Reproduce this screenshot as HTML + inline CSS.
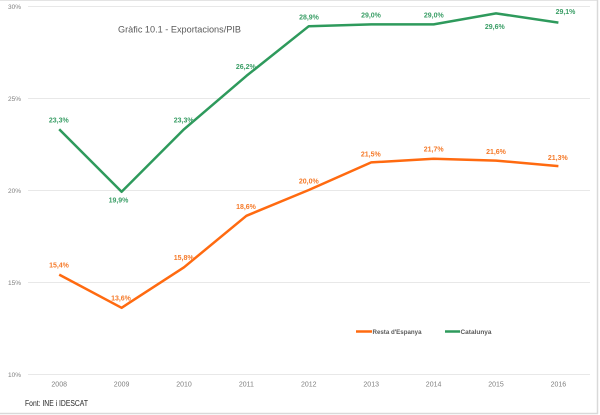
<!DOCTYPE html>
<html><head><meta charset="utf-8"><style>
html,body{margin:0;padding:0;background:#fff;}
svg{display:block;}
text{font-family:"Liberation Sans",Arial,sans-serif;}
</style></head><body>
<svg width="600" height="415" viewBox="0 0 600 415" xmlns="http://www.w3.org/2000/svg">
<rect x="0" y="0" width="600" height="415" fill="#fff"/>
<line x1="0" y1="0.5" x2="598" y2="0.5" stroke="#e4e4e4" stroke-width="1"/>
<line x1="597.5" y1="0" x2="597.5" y2="414" stroke="#d9d9d9" stroke-width="1.5"/>
<line x1="0" y1="413.5" x2="598" y2="413.5" stroke="#d9d9d9" stroke-width="1.5"/>
<g stroke="#e8e8e8" stroke-width="1">
<line x1="28" y1="6.5" x2="590" y2="6.5"/>
<line x1="28" y1="98.5" x2="590" y2="98.5"/>
<line x1="28" y1="190.5" x2="590" y2="190.5"/>
<line x1="28" y1="282.5" x2="590" y2="282.5"/>
<line x1="28" y1="374.5" x2="590" y2="374.5"/>
</g>
<g font-size="6.5" fill="#7f7f7f" text-anchor="end">
<text x="21" y="9">30%</text>
<text x="21" y="101">25%</text>
<text x="21" y="193">20%</text>
<text x="21" y="285">15%</text>
<text x="21" y="377">10%</text>
</g>
<g font-size="7" fill="#7f7f7f" text-anchor="middle">
<text x="59.2" y="386.5">2008</text>
<text x="121.6" y="386.5">2009</text>
<text x="184" y="386.5">2010</text>
<text x="246.4" y="386.5">2011</text>
<text x="308.8" y="386.5">2012</text>
<text x="371.2" y="386.5">2013</text>
<text x="433.6" y="386.5">2014</text>
<text x="496" y="386.5">2015</text>
<text x="558.4" y="386.5">2016</text>
</g>
<text x="118" y="32.5" font-size="9.5" fill="#595959" textLength="123" lengthAdjust="spacingAndGlyphs">Gràfic 10.1 - Exportacions/PIB</text>
<polyline fill="none" stroke="#2e9a5c" stroke-width="2.5" stroke-linejoin="round" points="59.2,129.3 121.6,191.8 184,129.3 246.4,75.9 308.8,26.2 371.2,24.4 433.6,24.4 496,13.4 558.4,22.6"/>
<polyline fill="none" stroke="#ff6a10" stroke-width="2.5" stroke-linejoin="round" points="59.2,274.6 121.6,307.8 184,267.3 246.4,215.8 308.8,190 371.2,162.4 433.6,158.7 496,160.6 558.4,166.1"/>
<g font-size="7" font-weight="bold" fill="#3a9e66" text-anchor="middle">
<text x="58.8" y="122.5">23,3%</text>
<text x="118.5" y="202.5">19,9%</text>
<text x="183.7" y="122.5">23,3%</text>
<text x="245.8" y="69">26,2%</text>
<text x="309" y="19.5">28,9%</text>
<text x="371" y="17.5">29,0%</text>
<text x="433.8" y="17.5">29,0%</text>
<text x="494.8" y="29">29,6%</text>
<text x="565.5" y="14">29,1%</text>
</g>
<g font-size="7" font-weight="bold" fill="#f57a2a" text-anchor="middle">
<text x="59" y="267.5">15,4%</text>
<text x="121" y="300.5">13,6%</text>
<text x="183.7" y="260">15,8%</text>
<text x="246" y="209">18,6%</text>
<text x="308.8" y="183.5">20,0%</text>
<text x="370.8" y="156.5">21,5%</text>
<text x="433.7" y="151.5">21,7%</text>
<text x="496" y="154">21,6%</text>
<text x="557.8" y="160">21,3%</text>
</g>
<line x1="356" y1="331.5" x2="372" y2="331.5" stroke="#ff6a10" stroke-width="2.5"/>
<text x="372.5" y="334" font-size="6.8" font-weight="bold" fill="#595959" textLength="49" lengthAdjust="spacingAndGlyphs">Resta d'Espanya</text>
<line x1="445" y1="331.5" x2="460" y2="331.5" stroke="#2e9a5c" stroke-width="2.5"/>
<text x="460.5" y="334" font-size="6.8" font-weight="bold" fill="#595959" textLength="31" lengthAdjust="spacingAndGlyphs">Catalunya</text>
<text x="25" y="406" font-size="8" fill="#262626" textLength="63" lengthAdjust="spacingAndGlyphs">Font: INE i IDESCAT</text>
</svg>
</body></html>
